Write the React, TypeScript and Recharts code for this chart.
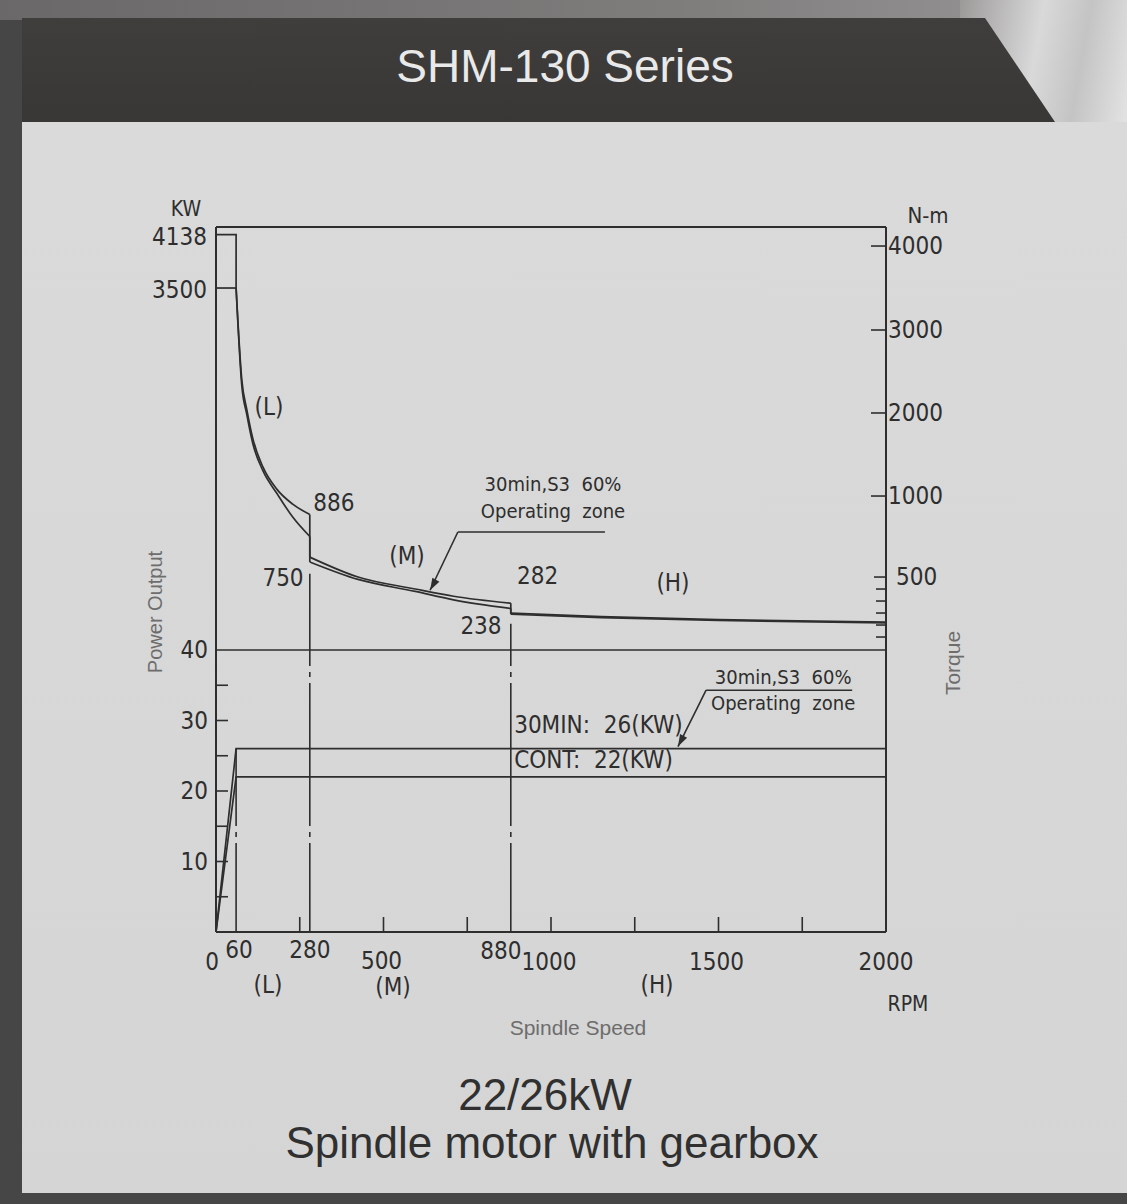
import React from 'react';
import { LineChart, Line, XAxis, YAxis, ReferenceLine, ReferenceDot } from 'recharts';

// spindle speed (rpm) and torque (N-m)
const edgeSpeed = [0, 60];
const edgeTorque30 = [4138, 4138];
const edgeTorqueCont = [3500, 3500];

const lowSpeed = [60, 77, 92, 110, 140, 182, 229, 280];
const lowTorque30 = [3500, 2400, 2040, 1690, 1350, 1080, 950, 886];
const lowTorqueCont = [3500, 2330, 1980, 1630, 1305, 1030, 870, 750];

const midSpeed = [280, 424, 595, 709, 880];
const midTorque30 = [623, 500, 400, 340, 282];
const midTorqueCont = [593, 480, 380, 310, 238];

const highSpeed = [880, 1150, 1500, 2000];
const highTorque30 = [200, 170, 145, 125];
const highTorqueCont = [190, 162, 138, 118];

// power output (kW)
const powerSpeed = [0, 60, 2000];
const power30 = [0, 26, 26];
const powerCont = [0, 22, 22];

// axis ticks
const speedTicks = [0, 60, 250, 280, 500, 750, 880, 1000, 1250, 1500, 1750, 2000];
const speedLabels = [0, 60, 280, 500, 880, 1000, 1500, 2000];
const powerTicks = [5, 10, 15, 20, 25, 30, 35, 40];
const powerLabels = [10, 20, 30, 40];
const torqueTicks = [0, 100, 200, 300, 400, 500, 1000, 2000, 3000, 4000];
const torqueLabels = [500, 1000, 2000, 3000, 4000];
const torqueLeftLabels = [4138, 3500];

const TORQUE_MIN = -2458;
const TORQUE_MAX = 4230;

const W = 1127;
const H = 1204;
const PLOT = { left: 216, right: 886, top: 227, bottom: 932 };
const INK = '#2e2e2e';
const GREY = '#6d6d6d';
const NARROW = "'Liberation Sans Narrow', 'Arial Narrow', 'DejaVu Sans Condensed', sans-serif";
const SANS = "'Liberation Sans', Arial, sans-serif";
const NUM = 24;

// the torque scale on the sheet is stretched below 1000 N-m
const torqueStops: [number, number][] = [
  [TORQUE_MIN, 0],
  [0, 0.4184],
  [500, 0.5035],
  [1000, 0.6184],
  [2000, 0.7362],
  [3000, 0.8539],
  [4000, 0.973],
  [TORQUE_MAX, 1],
];

function stretchedScale(stops: [number, number][], dom?: number[], rng?: number[]): any {
  let d = dom ? dom.slice() : [stops[0][0], stops[stops.length - 1][0]];
  let r = rng ? rng.slice() : [0, 1];
  const frac = (v: number) => {
    let i = 0;
    while (i < stops.length - 2 && v > stops[i + 1][0]) i++;
    const [v0, f0] = stops[i];
    const [v1, f1] = stops[i + 1];
    return f0 + ((v - v0) / (v1 - v0)) * (f1 - f0);
  };
  const unfrac = (f: number) => {
    let i = 0;
    while (i < stops.length - 2 && f > stops[i + 1][1]) i++;
    const [v0, f0] = stops[i];
    const [v1, f1] = stops[i + 1];
    return v0 + ((f - f0) / (f1 - f0)) * (v1 - v0);
  };
  const scale: any = (v: any) => r[0] + frac(Number(v)) * (r[1] - r[0]);
  scale.domain = (x?: number[]) => {
    if (x === undefined) return d.slice();
    d = x.slice();
    return scale;
  };
  scale.range = (x?: number[]) => {
    if (x === undefined) return r.slice();
    r = x.slice();
    return scale;
  };
  scale.copy = () => stretchedScale(stops, d, r);
  scale.invert = (px: number) => unfrac((px - r[0]) / (r[1] - r[0]));
  scale.ticks = () => torqueTicks.slice();
  scale.tickFormat = () => (v: number) => String(v);
  scale.clamp = () => scale;
  scale.nice = () => scale;
  return scale;
}

const torqueScale = stretchedScale(torqueStops);

const pts = (xs: number[], ys: number[]) => xs.map((rpm, i) => ({ rpm, v: ys[i] }));

const torqueSeries = [
  { key: 't30', edge: edgeTorque30, low: lowTorque30, mid: midTorque30, high: highTorque30 },
  { key: 'tcont', edge: edgeTorqueCont, low: lowTorqueCont, mid: midTorqueCont, high: highTorqueCont },
];

const speedLabelOffset: Record<number, [number, number]> = {
  0: [-4, 30],
  60: [3, 18],
  280: [0, 18],
  500: [-2, 29],
  880: [-10, 19],
  1000: [-2, 30],
  1500: [-2, 30],
  2000: [0, 30],
};

const SpeedTick = (props: any) => {
  const { x, payload } = props;
  const v = payload.value;
  const mark = v % 250 === 0 && v > 0 && v < 2000;
  const off = speedLabelOffset[v];
  return (
    <g>
      {mark && <line x1={x} x2={x} y1={PLOT.bottom} y2={PLOT.bottom - 15} stroke={INK} strokeWidth={1.6} />}
      {speedLabels.includes(v) && off && (
        <text x={x + off[0]} y={PLOT.bottom + off[1]} textAnchor="middle" dominantBaseline="central" fontSize={NUM} fontFamily={NARROW} fill={INK}>
          {v}
        </text>
      )}
    </g>
  );
};

const PowerTick = (props: any) => {
  const { y, payload } = props;
  const v = payload.value;
  return (
    <g>
      {v < 40 && <line x1={PLOT.left} x2={PLOT.left + 12} y1={y} y2={y} stroke={INK} strokeWidth={1.6} />}
      {powerLabels.includes(v) && (
        <text x={PLOT.left - 8} y={y} textAnchor="end" dominantBaseline="central" fontSize={NUM} fontFamily={NARROW} fill={INK}>
          {v}
        </text>
      )}
    </g>
  );
};

const TorqueTick = (props: any) => {
  const { y, payload } = props;
  const v = payload.value;
  const big = v >= 1000;
  const len = big ? 15 : v === 500 ? 12 : 10;
  return (
    <g>
      <line x1={PLOT.right} x2={PLOT.right - len} y1={y} y2={y} stroke={INK} strokeWidth={1.6} />
      {torqueLabels.includes(v) && (
        <text x={PLOT.right + (big ? 2 : 10)} y={y} textAnchor="start" dominantBaseline="central" fontSize={NUM} fontFamily={NARROW} fill={INK}>
          {v}
        </text>
      )}
    </g>
  );
};

const note = (text: string, anchor: 'start' | 'middle' | 'end' = 'middle', size = NUM) => (p: any) => (
  <text
    x={p.cx}
    y={p.cy}
    textAnchor={anchor}
    dominantBaseline="central"
    fontSize={size}
    fontFamily={NARROW}
    fill={INK}
    style={{ whiteSpace: 'pre' }}
  >
    {text}
  </text>
);

const arrowHead = (angle: number) => (p: any) => (
  <polygon points="0,0 -12,-4 -12,4" fill={INK} transform={`translate(${p.cx},${p.cy}) rotate(${angle})`} />
);

const Caption = ({ x, y, size, color = INK, family = NARROW, rotate = 0, children }: any) => (
  <div
    style={{
      position: 'absolute',
      left: x,
      top: y,
      transform: `translate(-50%, -50%) rotate(${rotate}deg)`,
      fontSize: size,
      fontFamily: family,
      color,
      whiteSpace: 'nowrap',
      lineHeight: 1,
    }}
  >
    {children}
  </div>
);

const dashDot = { strokeDasharray: '143 6 5 6', strokeDashoffset: 54 };

const App = () => {
  const lineProps = { dataKey: 'v', stroke: INK, strokeWidth: 1.7, dot: false, isAnimationActive: false, activeDot: false } as const;

  return (
    <div style={{ position: 'absolute', left: 0, top: 0, width: W, height: H, overflow: 'hidden', background: '#474646' }}>
      <div style={{ position: 'absolute', left: 0, top: 0, width: W, height: 20, background: 'linear-gradient(90deg, #6a6868, #7f7d7c 60%, #9a9898)' }} />
      <div style={{ position: 'absolute', left: 960, top: 0, width: 167, height: 124, background: 'linear-gradient(100deg, #9c9a99, #d9d9d9 45%, #c4c4c4 70%, #e3e3e3)' }} />
      <div
        style={{
          position: 'absolute',
          left: 22,
          top: 18,
          width: 1060,
          height: 104,
          background: 'linear-gradient(180deg, #403e3d, #393736)',
          clipPath: 'polygon(0 0, 963px 0, 1033px 100%, 0 100%)',
        }}
      />
      <div style={{ position: 'absolute', left: 22, top: 122, width: W - 22, height: 1071, background: 'linear-gradient(180deg, #dadada, #d5d5d5)' }} />

      <Caption x={565} y={66} size={46} color="#e9e9e9" family={SANS}>SHM-130 Series</Caption>

      <div style={{ position: 'absolute', left: 0, top: 0 }}>
        <LineChart width={W} height={H} margin={{ top: PLOT.top, right: 0, bottom: 0, left: 0 }}>
          <XAxis
            dataKey="rpm"
            type="number"
            domain={[0, 2000]}
            ticks={speedTicks}
            interval={0}
            height={H - PLOT.bottom}
            tick={<SpeedTick />}
            tickLine={false}
            tickSize={0}
            axisLine={{ stroke: INK, strokeWidth: 2 }}
            allowDataOverflow
          />
          <YAxis
            yAxisId="kw"
            orientation="left"
            type="number"
            domain={[0, 100]}
            ticks={powerTicks}
            interval={0}
            width={PLOT.left}
            tick={<PowerTick />}
            tickLine={false}
            tickSize={0}
            axisLine={{ stroke: INK, strokeWidth: 2 }}
            allowDataOverflow
          />
          <YAxis
            yAxisId="nm"
            orientation="right"
            type="number"
            scale={torqueScale}
            domain={[TORQUE_MIN, TORQUE_MAX]}
            ticks={torqueTicks}
            interval={0}
            width={W - PLOT.right}
            tick={<TorqueTick />}
            tickLine={false}
            tickSize={0}
            axisLine={{ stroke: INK, strokeWidth: 2 }}
            allowDataOverflow
          />

          <ReferenceLine yAxisId="kw" y={100} stroke={INK} strokeWidth={2} ifOverflow="visible" />
          <ReferenceLine yAxisId="kw" y={40} stroke={INK} strokeWidth={1.7} />

          {/* gear change lines */}
          <ReferenceLine yAxisId="kw" segment={[{ x: 60, y: 0 }, { x: 60, y: power30[1] }]} stroke={INK} strokeWidth={1.6} {...dashDot} />
          <ReferenceLine yAxisId="nm" segment={[{ x: 280, y: TORQUE_MIN }, { x: 280, y: 520 }]} stroke={INK} strokeWidth={1.6} {...dashDot} />
          <ReferenceLine yAxisId="nm" segment={[{ x: 880, y: TORQUE_MIN }, { x: 880, y: 110 }]} stroke={INK} strokeWidth={1.6} {...dashDot} />

          {torqueSeries.flatMap((s) => {
            const edge = pts(edgeSpeed, s.edge);
            const low = pts(lowSpeed, s.low);
            const mid = pts(midSpeed, s.mid);
            const high = pts(highSpeed, s.high);
            const parts = [
              { id: 'edge', data: [...edge, low[0]], type: 'linear' },
              { id: 'low', data: low, type: 'monotone' },
              { id: 'step1', data: [low[low.length - 1], mid[0]], type: 'linear' },
              { id: 'mid', data: mid, type: 'monotone' },
              { id: 'step2', data: [mid[mid.length - 1], high[0]], type: 'linear' },
              { id: 'high', data: high, type: 'monotone' },
            ];
            return parts.map((p) => (
              <Line key={s.key + p.id} yAxisId="nm" data={p.data} type={p.type as any} {...lineProps} />
            ));
          })}

          <Line yAxisId="kw" data={pts(powerSpeed, power30)} type="linear" {...lineProps} />
          <Line yAxisId="kw" data={pts(powerSpeed, powerCont)} type="linear" {...lineProps} />

          {/* left labels for start torque */}
          {torqueLeftLabels.map((t) => (
            <ReferenceDot key={t} yAxisId="nm" x={0} y={t} r={0} ifOverflow="visible" shape={(p: any) => note(String(t), 'end')({ cx: p.cx - 9, cy: p.cy + 2 })} />
          ))}

          {/* curve annotations */}
          <ReferenceDot yAxisId="nm" x={158} y={2072} r={0} ifOverflow="visible" shape={note('(L)')} />
          <ReferenceDot yAxisId="nm" x={352} y={957} r={0} ifOverflow="visible" shape={note('886')} />
          <ReferenceDot yAxisId="nm" x={200} y={492} r={0} ifOverflow="visible" shape={note('750')} />
          <ReferenceDot yAxisId="nm" x={570} y={630} r={0} ifOverflow="visible" shape={note('(M)')} />
          <ReferenceDot yAxisId="nm" x={960} y={508} r={0} ifOverflow="visible" shape={note('282')} />
          <ReferenceDot yAxisId="nm" x={791} y={92} r={0} ifOverflow="visible" shape={note('238')} />
          <ReferenceDot yAxisId="nm" x={1364} y={450} r={0} ifOverflow="visible" shape={note('(H)')} />

          <ReferenceDot yAxisId="nm" x={1006} y={1145} r={0} ifOverflow="visible" shape={note('30min,S3  60%', 'middle', 20)} />
          <ReferenceDot yAxisId="nm" x={1006} y={907} r={0} ifOverflow="visible" shape={note('Operating  zone', 'middle', 20)} />
          <ReferenceLine yAxisId="nm" segment={[{ x: 722, y: 778 }, { x: 1161, y: 778 }]} stroke={INK} strokeWidth={1.6} ifOverflow="visible" />
          <ReferenceLine yAxisId="nm" segment={[{ x: 722, y: 778 }, { x: 639, y: 390 }]} stroke={INK} strokeWidth={1.6} ifOverflow="visible" />
          <ReferenceDot yAxisId="nm" x={639} y={390} r={0} ifOverflow="visible" shape={arrowHead(119)} />

          <ReferenceDot yAxisId="kw" x={890} y={29.4} r={0} ifOverflow="visible" shape={note('30MIN:  26(KW)', 'start')} />
          <ReferenceDot yAxisId="kw" x={890} y={24.4} r={0} ifOverflow="visible" shape={note('CONT:  22(KW)', 'start')} />
          <ReferenceDot yAxisId="kw" x={1693} y={36.2} r={0} ifOverflow="visible" shape={note('30min,S3  60%', 'middle', 20)} />
          <ReferenceDot yAxisId="kw" x={1693} y={32.5} r={0} ifOverflow="visible" shape={note('Operating  zone', 'middle', 20)} />
          <ReferenceLine yAxisId="kw" segment={[{ x: 1463, y: 34.3 }, { x: 1899, y: 34.3 }]} stroke={INK} strokeWidth={1.6} ifOverflow="visible" />
          <ReferenceLine yAxisId="kw" segment={[{ x: 1463, y: 34.3 }, { x: 1379, y: 26.3 }]} stroke={INK} strokeWidth={1.6} ifOverflow="visible" />
          <ReferenceDot yAxisId="kw" x={1379} y={26.3} r={0} ifOverflow="visible" shape={arrowHead(118)} />
        </LineChart>
      </div>

      <Caption x={186} y={209} size={21}>KW</Caption>
      <Caption x={928} y={216} size={22}>N-m</Caption>
      <Caption x={155} y={612} size={20} color={GREY} family={SANS} rotate={-90}>Power Output</Caption>
      <Caption x={952} y={663} size={21} color={GREY} family={SANS} rotate={-90}>Torque</Caption>
      <Caption x={268} y={985} size={NUM}>(L)</Caption>
      <Caption x={393} y={987} size={NUM}>(M)</Caption>
      <Caption x={657} y={985} size={NUM}>(H)</Caption>
      <Caption x={908} y={1004} size={21}>RPM</Caption>
      <Caption x={578} y={1027} size={21} color={GREY} family={SANS}>Spindle Speed</Caption>

      <Caption x={545} y={1095} size={44} color="#303030" family={SANS}>22/26kW</Caption>
      <Caption x={552} y={1143} size={44} color="#303030" family={SANS}>Spindle motor with gearbox</Caption>
    </div>
  );
};

export default App;
